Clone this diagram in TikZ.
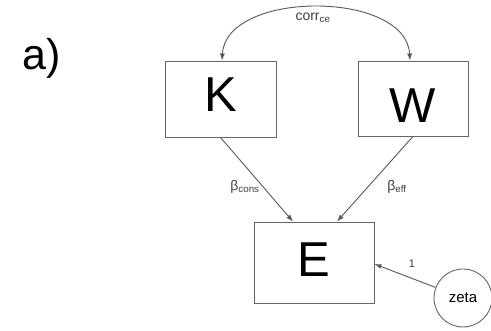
\documentclass[tikz,border=0pt]{standalone}
\usepackage{fontspec}
\setmainfont{Liberation Sans}
\usetikzlibrary{arrows.meta,calc}
\begin{document}
\begin{tikzpicture}[x=1pt,y=-1pt,
  box/.style={draw=black!60,line width=0.9pt,inner sep=0pt,font=\fontsize{49}{49}\selectfont},
  link/.style={draw=black!65,line width=0.9pt,-{Latex[length=7pt,width=5pt]}},
  dlink/.style={link,{Latex[length=7pt,width=5pt]}-{Latex[length=7pt,width=5pt]}},
  lbl/.style={text=black!75,inner sep=0pt,font=\fontsize{14}{14}\selectfont}]
\useasboundingbox[fill=white] (0,0) rectangle (491,331);
\node[inner sep=0pt,font=\fontsize{43}{43}\selectfont] (a) at (42,58) {a)};
\node[box,minimum width=111pt,minimum height=76pt,text height=26pt,text depth=0pt] (K) at (220.5,99) {K};
\node[box,minimum width=110pt,minimum height=75pt,text height=48pt,text depth=0pt] (W) at (413,98.5) {W};
\node[box,minimum width=120pt,minimum height=81pt,text height=29pt,text depth=0pt] (E) at (314,262.5) {E};
\node[draw=black!60,line width=0.9pt,circle,minimum size=58pt,inner sep=0pt,font=\fontsize{15}{15}\selectfont] (zeta) at (463,298) {zeta};
\coordinate (kt) at ($(K.north)+(1.5,0)$);
\coordinate (wt) at ($(W.north)+(-3,0)$);
\draw[dlink] (kt) .. controls (226,-10) and (406,-10) .. (wt);
\node[lbl] (corr) at (313,18) {corr\textsubscript{ce}};
\draw[link] (K.south) -- ($(E.north)+(-21,0)$);
\draw[link] (W.south) -- ($(E.north)+(23,0)$);
\draw[link] (zeta) -- ($(E.east)+(0,1.5)$);
\node[lbl] (bc) at (245,187) {β\textsubscript{cons}};
\node[lbl] (be) at (397,187) {β\textsubscript{eff}};
\node[lbl,font=\fontsize{11}{11}\selectfont] (one) at (412,264) {1};
\end{tikzpicture}
\end{document}
